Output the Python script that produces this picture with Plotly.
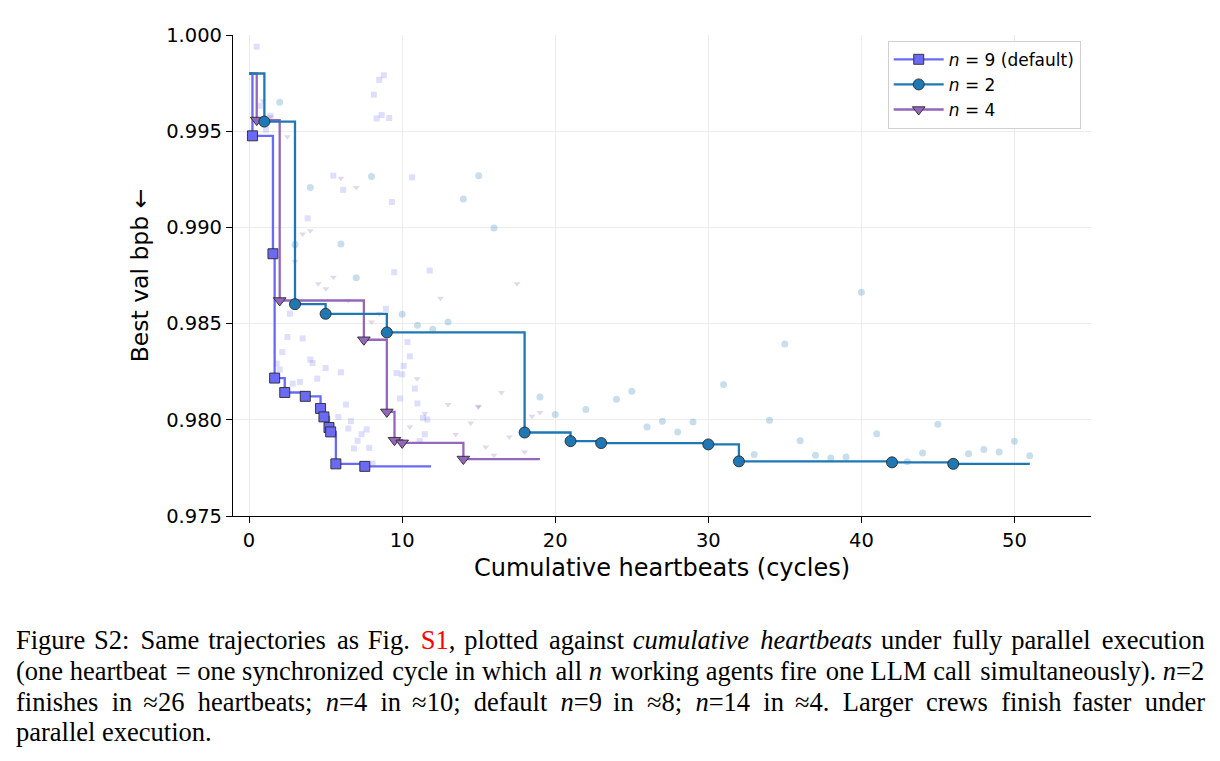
import re
import plotly.graph_objects as go

# ---------------- data ----------------
# Best-so-far step trajectories (x = cumulative heartbeats, y = best val bpb)
n9_step_x = [0, 0.22, 1.56, 1.67, 2.33, 3.67, 4.67, 4.89, 5.22, 5.33, 5.67, 7.56, 11.89]
n9_step_y = [0.998, 0.99476, 0.98863, 0.98217, 0.98142, 0.98122, 0.98059, 0.98015, 0.97960, 0.97937, 0.97771, 0.97758, 0.97758]
n9_mark_x = [0.22, 1.56, 1.67, 2.33, 3.67, 4.67, 4.89, 5.22, 5.33, 5.67, 7.56]
n9_mark_y = [0.99476, 0.98863, 0.98217, 0.98142, 0.98122, 0.98059, 0.98015, 0.97960, 0.97937, 0.97771, 0.97758]

n2_step_x = [0, 1, 3, 5, 9, 18, 21, 23, 30, 32, 42, 46, 51]
n2_step_y = [0.998, 0.99550, 0.98601, 0.98551, 0.98454, 0.97934, 0.97889, 0.97879, 0.97872, 0.97784, 0.97779, 0.97771, 0.97771]
n2_mark_x = [1, 3, 5, 9, 18, 21, 23, 30, 32, 42, 46]
n2_mark_y = [0.99550, 0.98601, 0.98551, 0.98454, 0.97934, 0.97889, 0.97879, 0.97872, 0.97784, 0.97779, 0.97771]

n4_step_x = [0, 0.5, 2, 7.5, 9, 9.5, 10, 14, 19]
n4_step_y = [0.998, 0.99558, 0.98620, 0.98416, 0.98041, 0.97894, 0.97880, 0.97796, 0.97796]
n4_mark_x = [0.5, 2, 7.5, 9, 9.5, 10, 14]
n4_mark_y = [0.99558, 0.98620, 0.98416, 0.98041, 0.97894, 0.97880, 0.97796]

# All individual attempts (faint background points)
n9_all_x = [0.5, 0.7, 1.1, 1.4, 5.5, 6.15, 10.65, 8.8, 8.5, 8.15, 8.33, 8.66, 9.15, 3.83, 9.33,
            9.48, 11.8, 2.67, 8.94, 2.5, 3.5, 2.17, 4.0, 4.15, 5.0, 6.0, 10.35, 10.5, 10.1, 9.63,
            10.0, 1.8, 2.0, 4.45, 2.85, 3.33, 6.33, 5.83, 6.65, 6.48, 7.68, 7.35, 7.09, 6.85,
            7.85, 10.83, 9.85, 11.0, 11.37, 11.65, 11.48, 11.15, 8.07]
n9_all_y = [0.99939, 0.99632, 0.99507, 0.99580, 0.99269, 0.99195, 0.99260, 0.99791, 0.99767, 0.99690,
            0.99566, 0.99584, 0.99568, 0.99047, 0.99132, 0.98767, 0.98776, 0.98551, 0.98577, 0.98430,
            0.98423, 0.98352, 0.98313, 0.98295, 0.98269, 0.98247, 0.98404, 0.98330, 0.98280, 0.98243,
            0.98236, 0.98292, 0.98261, 0.98214, 0.98188, 0.98197, 0.98079, 0.98015, 0.97993, 0.97955,
            0.97950, 0.97925, 0.97891, 0.97851, 0.97854, 0.98162, 0.98111, 0.98085, 0.98010, 0.98001,
            0.97925, 0.97889, 0.97773]

n2_all_x = [2, 3, 4, 6, 7, 8, 10, 11, 12, 13, 14, 15, 16, 19, 20, 22, 24, 25, 26, 27, 28, 29,
            31, 33, 34, 35, 36, 37, 38, 39, 40, 41, 43, 44, 45, 47, 48, 49, 50, 51]
n2_all_y = [0.99651, 0.98911, 0.99208, 0.98914, 0.98738, 0.99265, 0.98548, 0.98491, 0.98470, 0.98508,
            0.99148, 0.99269, 0.98997, 0.98119, 0.98028, 0.98054, 0.98107, 0.98149, 0.97963, 0.97993,
            0.97937, 0.97989, 0.98183, 0.97820, 0.97998, 0.98394, 0.97891, 0.97816, 0.97802, 0.97807,
            0.98663, 0.97927, 0.97782, 0.97828, 0.97977, 0.97823, 0.97846, 0.97832, 0.97889, 0.97813]

n4_all_x = [0.9, 1.4, 2.5, 6.0, 7.0, 3.5, 4.0, 3.0, 4.52, 5.5, 5.02, 6.48, 8.0, 8.5, 10.98, 13.0,
            14.96, 11.48, 10.5, 13.5, 14.48, 17.5, 12.5, 16.48, 15.0, 19.0, 18.48, 17.0, 15.46,
            16.0, 18.0]
n4_all_y = [0.99658, 0.99575, 0.99471, 0.99255, 0.99208, 0.98966, 0.98983, 0.98823, 0.98707, 0.98741,
            0.98681, 0.98620, 0.98508, 0.98551, 0.98214, 0.98080, 0.98067, 0.98033, 0.97963, 0.97924,
            0.97984, 0.98707, 0.98632, 0.98142, 0.98071, 0.98038, 0.98019, 0.97911, 0.97859, 0.97816,
            0.97833]

x_ticks = [0, 10, 20, 30, 40, 50]
y_ticks = [0.975, 0.980, 0.985, 0.990, 0.995, 1.000]

# ---------------- style ----------------
C9 = "#6a6af4"
C2 = "#1f77b4"
C4 = "#9467bd"
FONT = "DejaVu Sans, Liberation Sans, sans-serif"

fig = go.Figure()

# faint background attempts
fig.add_trace(go.Scatter(x=n9_all_x, y=n9_all_y, mode="markers", showlegend=False, hoverinfo="skip",
                         marker=dict(symbol="square", size=6, color="rgba(106,106,244,0.22)")))
fig.add_trace(go.Scatter(x=n2_all_x, y=n2_all_y, mode="markers", showlegend=False, hoverinfo="skip",
                         marker=dict(symbol="circle", size=7, color="rgba(31,119,180,0.24)")))
fig.add_trace(go.Scatter(x=n4_all_x, y=n4_all_y, mode="markers", showlegend=False, hoverinfo="skip",
                         marker=dict(symbol="triangle-down", size=6, color="rgba(148,103,189,0.26)")))

MLINE = dict(color="#2a2a2a", width=0.9)

series = [
    ("n9", n9_step_x, n9_step_y, n9_mark_x, n9_mark_y, C9, "square", 10, "<i>n</i> = 9 (default)", 1),
    ("n4", n4_step_x, n4_step_y, n4_mark_x, n4_mark_y, C4, "triangle-down", 11, "<i>n</i> = 4", 3),
    ("n2", n2_step_x, n2_step_y, n2_mark_x, n2_mark_y, C2, "circle", 11, "<i>n</i> = 2", 2),
]
for key, sx, sy, mx, my, col, sym, ms, name, rank in series:
    fig.add_trace(go.Scatter(x=sx, y=sy, mode="lines", line=dict(color=col, width=2.3, shape="hv"),
                             showlegend=False, hoverinfo="skip"))
    fig.add_trace(go.Scatter(x=mx, y=my, mode="markers", showlegend=False,
                             marker=dict(symbol=sym, size=ms, color=col, line=MLINE)))
    fig.add_trace(go.Scatter(x=[None], y=[None], mode="lines+markers", name=name, legendrank=rank,
                             line=dict(color=col, width=2.3),
                             marker=dict(symbol=sym, size=ms, color=col, line=MLINE)))

fig.update_layout(
    width=1220, height=761,
    margin=dict(l=233, r=129, t=35, b=245),
    paper_bgcolor="white", plot_bgcolor="white",
    font=dict(family=FONT, size=19.5, color="black"),
    showlegend=True,
    legend=dict(x=0.988, y=0.988, xanchor="right", yanchor="top",
                bgcolor="rgba(255,255,255,0.9)", bordercolor="#d0d0d0", borderwidth=1,
                font=dict(family=FONT, size=17), itemwidth=50, tracegroupgap=0),
)
fig.update_xaxes(range=[-1.05, 55], tickvals=x_ticks, ticktext=[str(v) for v in x_ticks],
                 showline=True, linecolor="black", linewidth=1.2, ticks="outside", ticklen=6,
                 tickwidth=1.2, tickcolor="black", showgrid=True, gridcolor="#ececec", gridwidth=1,
                 zeroline=False, tickfont=dict(size=19.5),
                 title=dict(text="Cumulative heartbeats (cycles)", font=dict(size=24), standoff=8))
fig.update_yaxes(range=[0.975, 1.000], tickvals=y_ticks, ticktext=[f"{v:.3f}" for v in y_ticks],
                 showline=True, linecolor="black", linewidth=1.2, ticks="outside", ticklen=6,
                 tickwidth=1.2, tickcolor="black", showgrid=True, gridcolor="#ececec", gridwidth=1,
                 zeroline=False, tickfont=dict(size=19.5),
                 title=dict(text="Best val bpb ←", font=dict(size=23.5), standoff=10))


# caption (justified look: widen word gaps with hair spaces, only outside HTML tags)
def widen_gaps(txt, n_hair):
    tokens = re.split(r"(<[^>]+>)", txt)
    gaps = sum(t.count(" ") for t in tokens if not t.startswith("<"))
    if gaps == 0 or n_hair <= 0:
        return txt
    counts = [n_hair // gaps] * gaps
    extra = n_hair % gaps
    for k in range(extra):
        counts[int((k + 0.5) * gaps / extra)] += 1
    out, gi = [], 0
    for t in tokens:
        if t.startswith("<"):
            out.append(t)
            continue
        buf = []
        for ch in t:
            if ch == " ":
                buf.append(" " + "\u200a" * counts[gi])
                gi += 1
            else:
                buf.append(ch)
        out.append("".join(buf))
    return "".join(out)


CAP_FONT = dict(family="Liberation Serif, Times New Roman, serif", size=26.5, color="black")
caption_lines = [
    "Figure S2: Same trajectories as Fig. <span style='color:#ff0000'>S1</span>, plotted against "
    "<i>cumulative heartbeats</i> under fully parallel execution",
    "(one heartbeat = one synchronized cycle in which all <i>n</i> working agents fire one LLM call "
    "simultaneously). <i>n</i>=2",
    "finishes in ≈26 heartbeats; <i>n</i>=4 in ≈10; default <i>n</i>=9 in ≈8; <i>n</i>=14 in ≈4. "
    "Larger crews finish faster under",
    "parallel execution.",
]
hair_counts = [21, 6, 49, 0]
caption_y_px = [640, 671, 702, 732]
for txt, nh, ypx in zip(caption_lines, hair_counts, caption_y_px):
    fig.add_annotation(text=widen_gaps(txt, nh), xref="paper", yref="paper",
                       x=(14 - 233) / 858, y=1 - (ypx - 35) / 481,
                       xanchor="left", yanchor="middle", showarrow=False, align="left",
                       font=CAP_FONT)

fig.write_html("out.html")
